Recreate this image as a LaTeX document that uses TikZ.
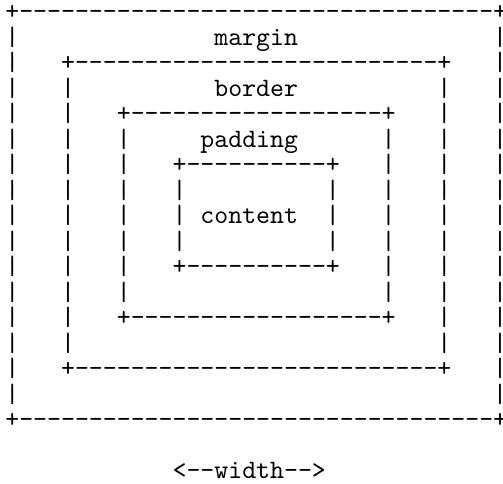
\documentclass[tikz,border=0pt]{standalone}
\font\mtt="[lmmono10-regular]" at 26.55pt
\newlength\pw
\setlength\pw{13.94pt}
\newcommand\ch[1]{\makebox[\pw]{#1}}
\newcommand\lch[1]{\makebox[0.5\pw][r]{\makebox[0pt]{#1}}}
\newcommand\gp[1]{\hspace*{\dimexpr\pw*#1\relax}}
\newcommand\rp[2]{\foreach\k in {1,...,#1}{\ch{#2}}}
\newcommand\bx{\ch{+}}
\newcommand\vb{\ch{|}}
\newcommand\ebx{\lch{+}}
\newcommand\evb{\lch{|}}
\newcommand\wmargin{\ch m\ch a\ch r\ch g\ch i\ch n}
\newcommand\wborder{\ch b\ch o\ch r\ch d\ch e\ch r}
\newcommand\wpadding{\ch p\ch a\ch d\ch d\ch i\ch n\ch g}
\newcommand\wcontent{\ch c\ch o\ch n\ch t\ch e\ch n\ch t}
\newcommand\wwidth{\ch w\ch i\ch d\ch t\ch h}
\tikzset{ln/.style={anchor=base west, inner sep=0pt, outer sep=0pt, font=\mtt}}
\begin{document}
\begin{tikzpicture}[x=1pt,y=1pt]
\fill[white] (0,0) rectangle (503,-484);
\useasboundingbox (0,0) rectangle (503,-484);
\node[ln] (r0) at (5.33,-19.9) {\bx\rp{34}{-}\ebx};
\node[ln] (r1) at (5.33,-45.4) {\vb\gp{14}\wmargin\gp{14}\evb};
\node[ln] (r2) at (5.33,-70.9) {\vb\gp{3}\bx\rp{26}{-}\bx\gp{3}\evb};
\node[ln] (r3) at (5.33,-96.4) {\vb\gp{3}\vb\gp{10}\wborder\gp{10}\vb\gp{3}\evb};
\node[ln] (r4) at (5.33,-121.9) {\vb\gp{3}\vb\gp{3}\bx\rp{18}{-}\bx\gp{3}\vb\gp{3}\evb};
\node[ln] (r5) at (5.33,-147.4) {\vb\gp{3}\vb\gp{3}\vb\gp{5}\wpadding\gp{6}\vb\gp{3}\vb\gp{3}\evb};
\node[ln] (r6) at (5.33,-172.9) {\vb\gp{3}\vb\gp{3}\vb\gp{3}\bx\rp{10}{-}\bx\gp{3}\vb\gp{3}\vb\gp{3}\evb};
\node[ln] (r7) at (5.33,-198.4) {\vb\gp{3}\vb\gp{3}\vb\gp{3}\vb\gp{10}\vb\gp{3}\vb\gp{3}\vb\gp{3}\evb};
\node[ln] (r8) at (5.33,-223.9) {\vb\gp{3}\vb\gp{3}\vb\gp{3}\vb\gp{1}\wcontent\gp{2}\vb\gp{3}\vb\gp{3}\vb\gp{3}\evb};
\node[ln] (r9) at (5.33,-249.4) {\vb\gp{3}\vb\gp{3}\vb\gp{3}\vb\gp{10}\vb\gp{3}\vb\gp{3}\vb\gp{3}\evb};
\node[ln] (r10) at (5.33,-274.9) {\vb\gp{3}\vb\gp{3}\vb\gp{3}\bx\rp{10}{-}\bx\gp{3}\vb\gp{3}\vb\gp{3}\evb};
\node[ln] (r11) at (5.33,-300.4) {\vb\gp{3}\vb\gp{3}\vb\gp{18}\vb\gp{3}\vb\gp{3}\evb};
\node[ln] (r12) at (5.33,-325.9) {\vb\gp{3}\vb\gp{3}\bx\rp{18}{-}\bx\gp{3}\vb\gp{3}\evb};
\node[ln] (r13) at (5.33,-351.4) {\vb\gp{3}\vb\gp{26}\vb\gp{3}\evb};
\node[ln] (r14) at (5.33,-376.9) {\vb\gp{3}\bx\rp{26}{-}\bx\gp{3}\evb};
\node[ln] (r15) at (5.33,-402.4) {\vb\gp{34}\evb};
\node[ln] (r16) at (5.33,-427.9) {\bx\rp{34}{-}\ebx};
\node[ln] (r18) at (172.6,-478.9) {\ch{<}\rp{2}{-}\wwidth\rp{2}{-}\ch{>}};
\end{tikzpicture}
\end{document}
